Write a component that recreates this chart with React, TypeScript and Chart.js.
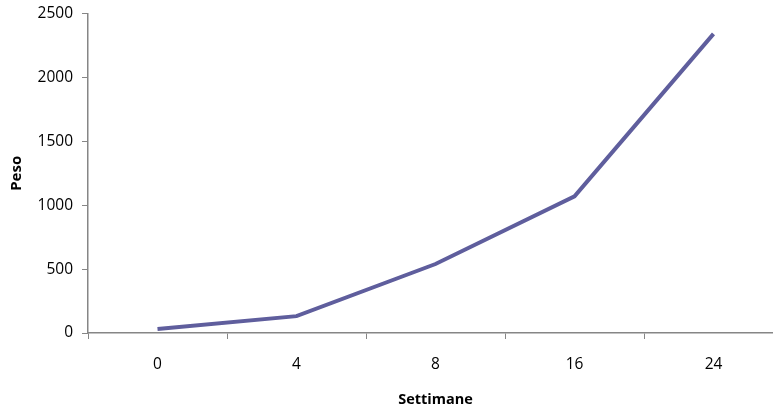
import React, { useEffect, useRef } from "react";
import { Chart, registerables } from "chart.js";

Chart.register(...registerables);

const categories = ["0", "4", "8", "16", "24"];
const pesoValues = [32, 132, 540, 1070, 2342];
const yTicks = [0, 500, 1000, 1500, 2000, 2500];

export default function App() {
  const ref = useRef<HTMLCanvasElement | null>(null);

  useEffect(() => {
    if (!ref.current) return;
    const font = "'Open Sans', sans-serif";
    const axisColor = "#868686";
    const chart = new Chart(ref.current, {
      type: "line",
      data: {
        labels: categories,
        datasets: [
          {
            label: "Peso",
            data: pesoValues,
            borderColor: "#5f5e9d",
            borderWidth: 4,
            pointRadius: 0,
            tension: 0,
            fill: false,
          },
        ],
      },
      options: {
        animation: false,
        responsive: false,
        devicePixelRatio: 1,
        layout: { padding: { top: 0, right: 7, left: 0, bottom: 0 } },
        plugins: { legend: { display: false }, tooltip: { enabled: false } },
        scales: {
          x: {
            offset: true,
            grid: {
              offset: true,
              drawOnChartArea: false,
              drawTicks: true,
              tickLength: 6,
              color: axisColor,
            },
            border: { display: true, color: axisColor, width: 1.5 },
            ticks: {
              color: "#000",
              font: { family: font, size: 15.5 },
              padding: 16,
              maxRotation: 0,
            },
            title: {
              display: true,
              text: "Settimane",
              color: "#000",
              font: { family: font, size: 14.5, weight: "bold" },
              padding: { top: 0, bottom: 0 },
            },
            afterFit: (s: any) => {
              s.height = 76;
            },
          },
          y: {
            min: 0,
            max: 2500,
            afterBuildTicks: (s: any) => {
              s.ticks = yTicks.map((v) => ({ value: v }));
            },
            grid: {
              drawOnChartArea: false,
              drawTicks: true,
              tickLength: 6,
              color: axisColor,
            },
            border: { display: true, color: axisColor, width: 1.5 },
            ticks: {
              color: "#000",
              font: { family: font, size: 15.5, lineHeight: 0.6 },
              padding: 9,
              callback: (v: any) => String(v),
            },
            title: {
              display: true,
              text: "Peso",
              color: "#000",
              font: { family: font, size: 15, weight: "bold" },
              padding: { top: 8, bottom: 0 },
            },
            afterFit: (s: any) => {
              s.width = 88;
            },
          },
        },
      },
    });
    return () => chart.destroy();
  }, []);

  return (
    <div
      style={{
        position: "absolute",
        left: 0,
        top: 0,
        width: 773,
        height: 409,
        overflow: "hidden",
        background: "#fff",
      }}
    >
      <canvas ref={ref} width={790} height={409} style={{ display: "block" }} />
    </div>
  );
}
